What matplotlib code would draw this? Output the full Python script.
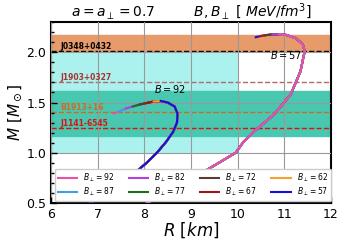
import matplotlib.pyplot as plt
from matplotlib.ticker import MultipleLocator

# B_perp values and colours (legend order)
bPerp = [92, 87, 82, 77, 72, 67, 62, 57]
colorList = ['#ee4fa6', '#3e9ee8', '#b43fe0', '#1f6e1f', '#5a3b36', '#a31515', '#f5a030', '#1010e0']

# M-R track for B = 92 (R in km, M in Msun), from low mass to the turning end
r92 = [6.84, 7.30, 7.77, 8.05, 8.27, 8.47, 8.62, 8.70, 8.71, 8.65, 8.50, 8.35, 8.20, 8.05, 7.90, 7.75, 7.60, 7.45, 7.35]
m92 = [0.50, 0.65, 0.79, 0.90, 1.00, 1.11, 1.21, 1.30, 1.39, 1.46, 1.50, 1.515, 1.51, 1.495, 1.48, 1.46, 1.44, 1.41, 1.39]
# number of track points reached by each B_perp line
n92 = [19, 18, 17, 16, 15, 14, 13, 12]

# M-R track for B = 57
r57 = [8.06, 8.60, 9.20, 9.60, 9.96, 10.13, 10.35, 10.78, 11.14, 11.35, 11.44, 11.40, 11.25, 11.05, 10.90, 10.75, 10.60, 10.48, 10.39]
m57 = [0.50, 0.64, 0.79, 0.90, 1.00, 1.11, 1.21, 1.38, 1.58, 1.81, 2.01, 2.08, 2.14, 2.172, 2.18, 2.178, 2.17, 2.16, 2.15]
n57 = [15, 15, 16, 16, 17, 18, 18, 19]

# pulsar mass constraints
pulsarNames = ['J0348+0432', 'J1903+0327', 'B1913+16', 'J1141-6545']
pulsarMass = [2.01, 1.70, 1.405, 1.25]
pulsarColors = ['black', '#b06a6a', '#d2691e', '#e01010']
pulsarTextColors = ['black', '#a83232', '#d2691e', '#e01010']
orangeBand = [2.01, 2.17]
tealBand = [1.168, 1.614]
cyanBox = [6, 10, 1.0, 2.0]

fig = plt.figure(figsize=[3.41, 2.46], dpi=100)
ax = fig.add_axes([0.15, 0.175, 0.82, 0.735])

ax.axhspan(orangeBand[0], orangeBand[1], color='#e79a6a', zorder=0)
ax.fill_between([cyanBox[0], cyanBox[1]], cyanBox[2], cyanBox[3], color='#abf2ee', lw=0, zorder=0)
ax.axhspan(tealBand[0], tealBand[1], color='#48c8b0', zorder=0)

ax.grid(True, color='#999999', lw=0.8, zorder=1)
ax.set_axisbelow(False)

for i in range(len(pulsarNames)):
    ax.axhline(pulsarMass[i], color=pulsarColors[i], ls='--', lw=1, zorder=2)
    ax.text(6.2, pulsarMass[i] + 0.045, pulsarNames[i], color=pulsarTextColors[i],
            fontsize=5.5, fontweight='bold', va='center', zorder=3)

# B = 92 family: blue on top
for i in range(len(bPerp)):
    n = n92[i]
    ax.plot(r92[:n], m92[:n], color=colorList[i], lw=1.5, label=r'$B_\perp=%d$' % bPerp[i], zorder=4)
# B = 57 family: pink on top
for i in reversed(range(len(bPerp))):
    n = n57[i]
    ax.plot(r57[:n], m57[:n], color=colorList[i], lw=1.5, zorder=4)

ax.text(8.2, 1.59, r'$B=92$', fontsize=7, zorder=5)
ax.text(10.7, 1.93, r'$B=57$', fontsize=7, zorder=5)

ax.set_xlim(6, 12)
ax.set_ylim(0.5, 2.3)
ax.xaxis.set_major_locator(MultipleLocator(1))
ax.xaxis.set_minor_locator(MultipleLocator(0.5))
ax.yaxis.set_major_locator(MultipleLocator(0.5))
ax.yaxis.set_minor_locator(MultipleLocator(0.1))
ax.tick_params(which='both', direction='in', labelsize=9, width=1)
ax.tick_params(which='major', length=4)
ax.tick_params(which='minor', length=2.5)
for s in ax.spines.values():
    s.set_linewidth(1.5)

ax.set_xlabel(r'$R\ [km]$', fontsize=12, labelpad=0)
ax.set_ylabel(r'$M\ [M_\odot]$', fontsize=11, labelpad=2)
ax.set_title(r'$a=a_\perp=0.7$         $B,B_\perp\ [\ MeV/fm^3]$', fontsize=10, pad=4)

ax.legend(loc='lower left', bbox_to_anchor=(0.015, 0.01, 0.985, 0.15), mode='expand',
          ncol=4, fontsize=5.5, frameon=True, framealpha=1, handlelength=2.5,
          labelspacing=0.25, borderpad=0.35, borderaxespad=0, edgecolor='#cccccc')

plt.savefig('out.png', dpi=100)
